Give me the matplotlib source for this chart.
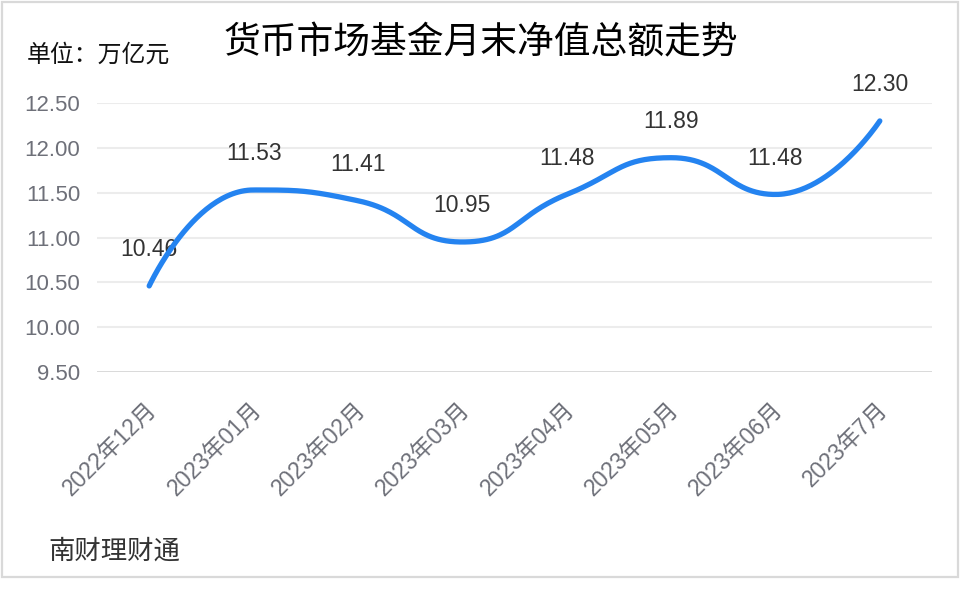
import numpy as np
import matplotlib
matplotlib.use("Agg")
import matplotlib.pyplot as plt
from matplotlib.patches import Rectangle
import matplotlib.transforms as mtransforms

categories = ["2022年12月", "2023年01月", "2023年02月", "2023年03月",
              "2023年04月", "2023年05月", "2023年06月", "2023年7月"]
values = [10.46, 11.53, 11.41, 10.95, 11.48, 11.89, 11.48, 12.30]
y_ticks = [9.50, 10.00, 10.50, 11.00, 11.50, 12.00, 12.50]
title = "货币市场基金月末净值总额走势"
unit_label = "单位：万亿元"
source = "南财理财通"

W, H = 962, 595
fig = plt.figure(figsize=(W / 100, H / 100), dpi=100)
fig.patch.set_facecolor("white")

ax_l, ax_r, ax_t, ax_b = 97, 932, 103, 372
ax = fig.add_axes([ax_l / W, 1 - ax_b / H, (ax_r - ax_l) / W, (ax_b - ax_t) / H])
ax.set_xlim(-0.5, len(categories) - 0.5)
ax.set_ylim(y_ticks[0], y_ticks[-1])

num_font = ["Liberation Sans", "Noto Sans CJK SC", "DejaVu Sans"]
cjk_font = ["Noto Sans CJK SC", "DejaVu Sans"]

# grid
for i, t in enumerate(y_ticks):
    if i == 0:
        ax.axhline(t, color="#d6d6d6", lw=2.0, zorder=1)
    else:
        ax.axhline(t, color="#ececec", lw=1.5, zorder=1)
for s in ax.spines.values():
    s.set_visible(False)
ax.set_yticks(y_ticks)
ax.set_yticklabels([f"{t:.2f}" for t in y_ticks], family=num_font,
                   fontsize=16, color="#6e7079")
ax.tick_params(axis="y", length=0, pad=12)
xs = np.arange(len(categories))
ax.set_xticks(xs)
ax.set_xticklabels(categories, family=num_font, fontsize=16.5, color="#6e7079",
                   rotation=45, ha="right", va="center", rotation_mode="anchor")
ax.tick_params(axis="x", length=0, pad=24)
offset = mtransforms.ScaledTranslation(4 / 100, 0, fig.dpi_scale_trans)
for lbl in ax.get_xticklabels():
    lbl.set_transform(lbl.get_transform() + offset)

# ECharts 5 style smooth line (smooth = 0.5) computed in pixel-scaled space
sx = (ax_r - ax_l) / len(categories)
sy = (ax_b - ax_t) / (y_ticks[-1] - y_ticks[0])
P = np.column_stack([xs * sx, np.array(values) * sy])
smooth = 0.5
n = len(P)
curve = [P[0:1]]
cp0 = P[0].copy()
for i in range(1, n):
    x, y = P[i]
    px, py = P[i - 1]
    if i == n - 1:
        cp1 = np.array([x, y])
        next_cp0 = np.array([x, y])
    else:
        nx, ny = P[i + 1]
        vx, vy = nx - px, ny - py
        lp = np.hypot(x - px, y - py)
        ln = np.hypot(nx - x, ny - y)
        r = ln / (ln + lp)
        ncx = x + vx * smooth * r
        ncy = y + vy * smooth * r
        ncx = max(min(ncx, max(nx, x)), min(nx, x))
        ncy = max(min(ncy, max(ny, y)), min(ny, y))
        vx, vy = ncx - x, ncy - y
        c1x = x - vx * lp / ln
        c1y = y - vy * lp / ln
        c1x = max(min(c1x, max(px, x)), min(px, x))
        c1y = max(min(c1y, max(py, y)), min(py, y))
        vx, vy = x - c1x, y - c1y
        ncx = x + vx * ln / lp
        ncy = y + vy * ln / lp
        cp1 = np.array([c1x, c1y])
        next_cp0 = np.array([ncx, ncy])
    t = np.linspace(0, 1, 60)[1:, None]
    b = ((1 - t) ** 3) * P[i - 1] + 3 * ((1 - t) ** 2) * t * cp0 \
        + 3 * (1 - t) * t ** 2 * cp1 + t ** 3 * P[i]
    curve.append(b)
    cp0 = next_cp0
curve = np.vstack(curve)
ax.plot(curve[:, 0] / sx, curve[:, 1] / sy, color="#2483f0", lw=3.8,
        solid_capstyle="round", solid_joinstyle="round", zorder=3)

for x, v in zip(xs, values):
    ax.annotate(f"{v:.2f}", (x, v), xytext=(0, 26), textcoords="offset points",
                ha="center", va="center", fontsize=16.5, color="#333333",
                family=num_font, zorder=2)

fig.text(481 / W, 1 - 43 / H, title, ha="center", va="center",
         fontsize=26.5, color="#000000", family=cjk_font)
fig.text(27 / W, 1 - 55 / H, unit_label, ha="left", va="center",
         fontsize=17.2, color="#111111", family=cjk_font)
fig.text(48 / W, 1 - 551 / H, source, ha="left", va="center",
         fontsize=19, color="#333333", family=cjk_font)

fig.add_artist(Rectangle((1.5 / W, 1 - 577 / H), 956.5 / W, 575.5 / H,
                         transform=fig.transFigure, fill=False,
                         edgecolor="#d9d9d9", lw=1.6))

fig.savefig("out.png", dpi=100, facecolor="white")
